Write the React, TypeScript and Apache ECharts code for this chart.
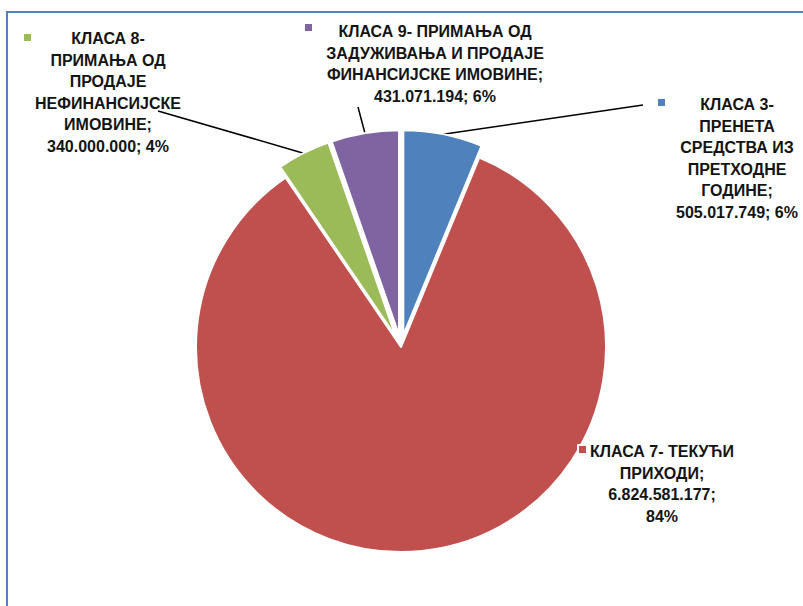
import React, { useEffect, useRef } from 'react';
import * as echarts from 'echarts';

// ---- data ----
const categories = [
  'КЛАСА 3- ПРЕНЕТА СРЕДСТВА ИЗ ПРЕТХОДНЕ ГОДИНЕ',
  'КЛАСА 7- ТЕКУЋИ ПРИХОДИ',
  'КЛАСА 8- ПРИМАЊА ОД ПРОДАЈЕ НЕФИНАНСИЈСКЕ ИМОВИНЕ',
  'КЛАСА 9- ПРИМАЊА ОД ЗАДУЖИВАЊА И ПРОДАЈЕ ФИНАНСИЈСКЕ ИМОВИНЕ',
];
// how each category name is wrapped in its label
const nameLines = [
  ['КЛАСА 3-', 'ПРЕНЕТА', 'СРЕДСТВА ИЗ', 'ПРЕТХОДНЕ', 'ГОДИНЕ;'],
  ['КЛАСА 7- ТЕКУЋИ', 'ПРИХОДИ;'],
  ['КЛАСА 8-', 'ПРИМАЊА ОД', 'ПРОДАЈЕ', 'НЕФИНАНСИЈСКЕ', 'ИМОВИНЕ;'],
  ['КЛАСА 9- ПРИМАЊА ОД', 'ЗАДУЖИВАЊА И ПРОДАЈЕ', 'ФИНАНСИЈСКЕ ИМОВИНЕ;'],
];
const values = [505017749, 6824581177, 340000000, 431071194];
const percentLabels = ['6%', '84%', '4%', '6%'];
const exploded = [true, false, true, true];
const valueOnOwnLine = [false, true, false, false];

// ---- style / layout ----
const colors = ['#4F81BD', '#C0504D', '#9BBB59', '#8064A2'];
const CX = 401;
const CY = 347;
const R = 205;
const OFFSET = 12;
const labelPos = [
  { x: 737, y: 94 },
  { x: 662, y: 441 },
  { x: 108, y: 28 },
  { x: 435, y: 21 },
];
const lineEnds = [
  [643, 105],
  null,
  [158, 111],
  [358, 107],
];
const keyPos = [
  { left: 656, top: 97 },
  { left: 577, top: 444 },
  { left: 22, top: 32 },
  { left: 303, top: 22 },
];
const FONT = "'Liberation Sans', Arial, sans-serif";

function fmt(v: number): string {
  return String(v).replace(/\B(?=(\d{3})+(?!\d))/g, '.');
}

export default function App() {
  const ref = useRef<HTMLDivElement>(null);

  useEffect(() => {
    if (!ref.current) return;
    const chart = echarts.init(ref.current, undefined, { renderer: 'svg' });

    const total = values.reduce((a, b) => a + b, 0);
    let cum = 0;
    const mids = values.map((v) => {
      const m = ((cum + v / 2) / total) * Math.PI * 2;
      cum += v;
      return m;
    });

    const labelTexts = categories.map((_, i) => {
      const lines = [...nameLines[i]];
      if (valueOnOwnLine[i]) {
        lines.push(fmt(values[i]) + ';');
        lines.push(percentLabels[i]);
      } else {
        lines.push(fmt(values[i]) + '; ' + percentLabels[i]);
      }
      return lines.join('\n');
    });

    const legends = categories.map((name, i) => ({
      show: true,
      data: [{ name, icon: 'rect' }],
      left: keyPos[i].left,
      top: keyPos[i].top,
      padding: 0,
      itemWidth: 9,
      itemHeight: 9,
      itemGap: 0,
      selectedMode: false,
      formatter: () => '',
      textStyle: { fontSize: 1 },
    }));

    chart.setOption({
      animation: false,
      backgroundColor: '#ffffff',
      color: colors,
      legend: legends,
      graphic: [
        {
          type: 'rect',
          shape: { x: 7, y: 12, width: 900, height: 700 },
          style: { fill: 'none', stroke: '#4F81BD', lineWidth: 2 },
          silent: true,
        },
      ],
      series: [
        // visible slices (small ones exploded)
        {
          type: 'pie',
          center: [CX, CY],
          radius: R,
          startAngle: 90,
          clockwise: true,
          selectedMode: 'multiple',
          selectedOffset: OFFSET,
          avoidLabelOverlap: false,
          emphasis: { disabled: true },
          itemStyle: { borderColor: '#ffffff', borderWidth: 2 },
          label: { show: false },
          labelLine: { show: false },
          data: categories.map((name, i) => ({
            name,
            value: values[i],
            selected: exploded[i],
          })),
        },
        // label overlay (same data, transparent slices)
        {
          type: 'pie',
          center: [CX, CY],
          radius: R,
          startAngle: 90,
          clockwise: true,
          silent: true,
          selectedMode: false,
          avoidLabelOverlap: false,
          emphasis: { disabled: true },
          itemStyle: { color: 'rgba(0,0,0,0)', borderWidth: 0 },
          label: {
            show: true,
            position: 'outside',
            color: '#141414',
            fontFamily: FONT,
            fontWeight: 'bold',
            fontSize: 16,
            lineHeight: 21.5,
            align: 'center',
            formatter: (p: any) => labelTexts[p.dataIndex],
          },
          labelLine: {
            show: true,
            lineStyle: { color: '#000000', width: 1.5 },
          },
          labelLayout: (params: any) => {
            const i = params.dataIndex;
            const res: any = {
              x: labelPos[i].x,
              y: labelPos[i].y,
              align: 'center',
              verticalAlign: 'top',
              hideOverlap: false,
            };
            const end = lineEnds[i];
            if (end) {
              const rr = R + (exploded[i] ? OFFSET : 0);
              const ax = CX + rr * Math.sin(mids[i]);
              const ay = CY - rr * Math.cos(mids[i]);
              res.labelLinePoints = [
                [ax, ay],
                [end[0], end[1]],
              ];
            }
            return res;
          },
          data: categories.map((name, i) => ({
            name,
            value: values[i],
            labelLine: { show: lineEnds[i] !== null },
          })),
        },
      ],
    });

    return () => chart.dispose();
  }, []);

  return (
    <div style={{ position: 'fixed', left: 0, top: 0, width: 803, height: 606, overflow: 'hidden', background: '#fff' }}>
      <div ref={ref} style={{ width: 803, height: 606 }} />
    </div>
  );
}
